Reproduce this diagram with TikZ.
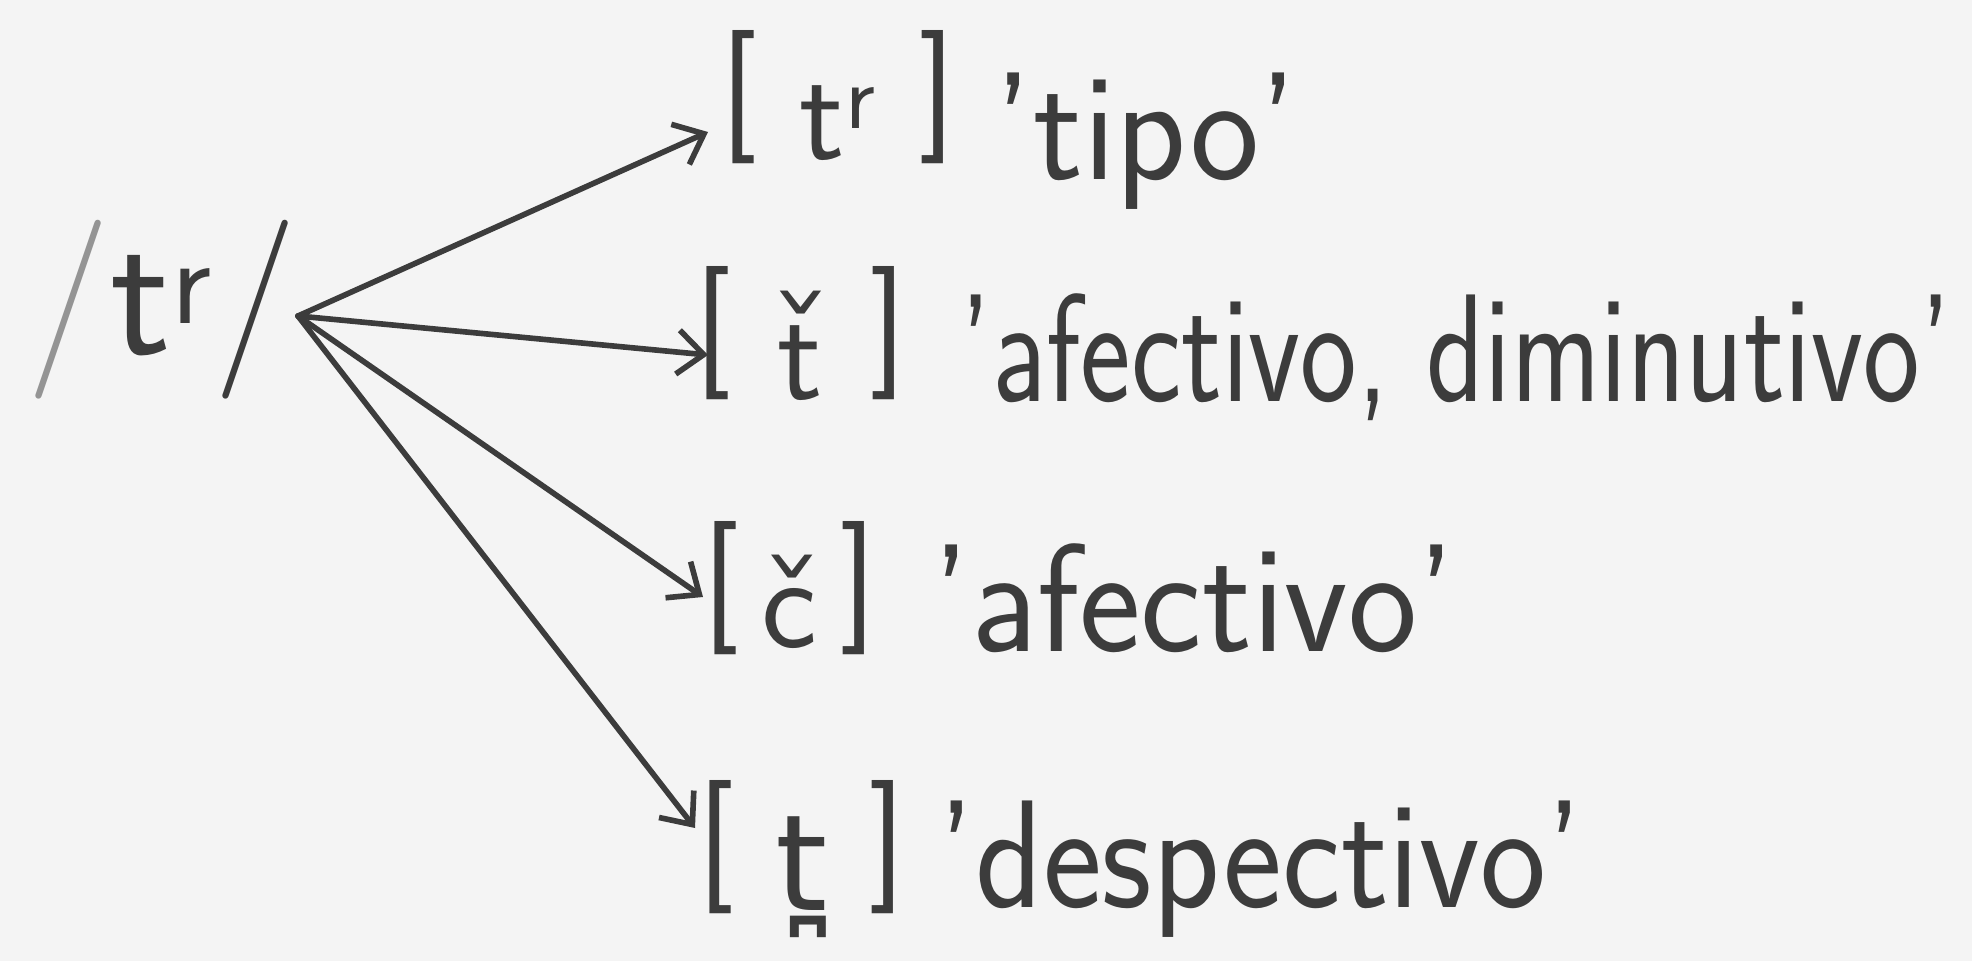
\documentclass[tikz,border=0pt]{standalone}
\usepackage{fontspec}
\usepackage{graphicx}
\newfontfamily\djv{DejaVu Sans}
\usetikzlibrary{arrows.meta}
\definecolor{ink}{HTML}{3C3C3C}
\definecolor{paper}{HTML}{F4F4F4}
\newcommand{\lbr}[1]{\raisebox{#1}{[}}
\newcommand{\rbr}[1]{\raisebox{#1}{]}}
\tikzset{
  lbl/.style={inner sep=0pt, anchor=base west, text=ink, font=\fontsize{38}{40}\selectfont\sffamily},
  srclbl/.style={lbl, font=\fontsize{51}{53}\selectfont\sffamily},
  arr/.style={draw=ink, line width=1.6pt, line cap=round,
    -{Straight Barb[length=2.6mm,width=4.4mm,line width=1.6pt]}},
}
\begin{document}
\begin{tikzpicture}[x=0.1mm,y=-0.1mm]
\fill[paper] (0,0) rectangle (1972,961);
\useasboundingbox (0,0) rectangle (1972,961);

% source
\node[srclbl] (src) at (26,355) {{\color{ink!55}/}t\textsuperscript{r}/};
\coordinate (o) at (298,316);

% bracketed realisations
\node[lbl] (b1) at (720,160) {\lbr{0.22em}\hspace{0.32em}t\textsuperscript{r}\hspace{0.32em}\rbr{0.22em}};
\node[lbl] (g1) at (994,180) {\scalebox{1.1}[1.15]{’tipo’}};

\node[lbl] (b2) at (694,400) {\lbr{0.25em}\hspace{0.35em}\accent"02C7 t\hspace{0.35em}\rbr{0.25em}};
\node[lbl] (g2) at (960,402) {\scalebox{0.9}[1.15]{’afectivo, diminutivo’}};

\node[lbl] (b3) at (702,648) {\lbr{0.2em}\hspace{0.17em}č\hspace{0.17em}\rbr{0.2em}};
\node[lbl] (g3) at (932,652) {\scalebox{1.1}[1.15]{’afectivo’}};

\node[lbl] (b4) at (697,910) {\lbr{0.22em}\hspace{0.31em}{\djv t̪}\hspace{0.31em}\rbr{0.22em}};
\node[lbl] (g4) at (938,907) {\scalebox{1.05}[1.15]{’despectivo’}};

% arrow tips
\coordinate (t1) at (708,132);
\coordinate (t2) at (708,355);
\coordinate (t3) at (703,597);
\coordinate (t4) at (695,828);

\draw[arr] (o) -- (t1);
\draw[arr] (o) -- (t2);
\draw[arr] (o) -- (t3);
\draw[arr] (o) -- (t4);
\end{tikzpicture}
\end{document}
